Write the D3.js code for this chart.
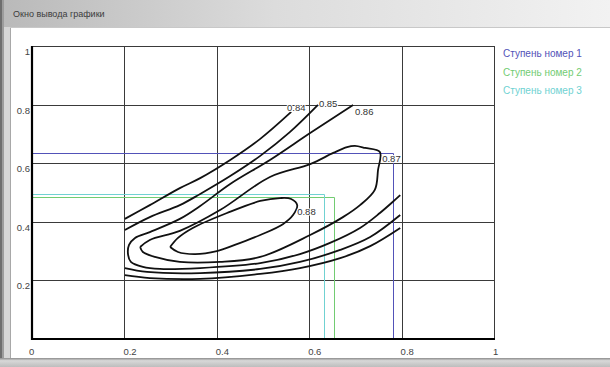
<!DOCTYPE html>
<html>
<head>
<meta charset="utf-8">
<script src="https://cdn.jsdelivr.net/npm/d3@7/dist/d3.min.js"></script>
<style>
  html, body { margin: 0; padding: 0; background: #ffffff; }
  svg { display: block; font-family: "Liberation Sans", Arial, sans-serif; }
</style>
</head>
<body>
<svg id="win" width="610" height="367"></svg>
<script>
// Axis ticks
const xTicks = [0, 0.2, 0.4, 0.6, 0.8, 1];
const yTicks = [0, 0.2, 0.4, 0.6, 0.8, 1];
const xTickLabels = ["0", "0.2", "0.4", "0.6", "0.8", "1"];
const yTickLabels = ["", "0.2", "0.4", "0.6", "0.8", "1"];

// Contour levels (x, y pairs)
const level084Upper = [[0.201,0.410],[0.255,0.457],[0.320,0.515],[0.364,0.549],[0.429,0.611],[0.494,0.683],[0.561,0.775]];
const level084Lower = [[0.201,0.218],[0.255,0.208],[0.364,0.205],[0.494,0.222],[0.580,0.242],[0.667,0.276],[0.732,0.317],[0.797,0.379]];
const level085Upper = [[0.201,0.372],[0.255,0.416],[0.320,0.457],[0.364,0.495],[0.429,0.556],[0.494,0.625],[0.558,0.706],[0.619,0.799]];
const level085Lower = [[0.201,0.242],[0.249,0.229],[0.364,0.225],[0.494,0.239],[0.580,0.263],[0.667,0.304],[0.732,0.348],[0.797,0.423]];
const level086 = [[0.695,0.799],[0.602,0.703],[0.515,0.611],[0.429,0.529],[0.364,0.454],[0.320,0.410],[0.255,0.365],[0.223,0.345],[0.210,0.321],[0.208,0.287],[0.214,0.263],[0.240,0.246],[0.277,0.239],[0.364,0.242],[0.494,0.259],[0.580,0.290],[0.645,0.328],[0.710,0.379],[0.753,0.430],[0.797,0.491]];
const level087 = [[0.234,0.314],[0.255,0.338],[0.320,0.369],[0.407,0.440],[0.515,0.553],[0.602,0.597],[0.652,0.635],[0.682,0.655],[0.699,0.659],[0.721,0.652],[0.753,0.638],[0.749,0.577],[0.742,0.509],[0.710,0.457],[0.673,0.416],[0.602,0.355],[0.494,0.280],[0.407,0.263],[0.320,0.263],[0.266,0.280],[0.240,0.297],[0.234,0.314]];
const level088 = [[0.299,0.314],[0.316,0.345],[0.348,0.379],[0.422,0.430],[0.494,0.471],[0.537,0.481],[0.561,0.478],[0.574,0.457],[0.565,0.423],[0.543,0.392],[0.494,0.355],[0.439,0.321],[0.400,0.300],[0.353,0.290],[0.316,0.297],[0.299,0.314]];

const contourPaths = [level084Upper, level084Lower, level085Upper, level085Lower, level086, level087, level088];
const contourLabels = ["0.84", "0.85", "0.86", "0.87", "0.88"];
const contourLabelAt = [[0.552,0.778],[0.621,0.792],[0.699,0.765],[0.758,0.604],[0.574,0.423]];

// Stage boundaries: [x limit, y limit]
const stageNames = ["Ступень номер 1", "Ступень номер 2", "Ступень номер 3"];
const stageX = [0.781, 0.654, 0.632];
const stageY = [0.636, 0.485, 0.495];
const stageColors = ["#5252b8", "#72cc72", "#70d2d2"];

const svg = d3.select("#win");
const W = 610, H = 367;

// ---- window chrome ----
const defs = svg.append("defs");
const tg = defs.append("linearGradient").attr("id", "title").attr("x1", 0).attr("x2", 1).attr("y1", 0).attr("y2", 0);
tg.append("stop").attr("offset", "0%").attr("stop-color", "#b9b9b9");
tg.append("stop").attr("offset", "45%").attr("stop-color", "#dcdcdc");
tg.append("stop").attr("offset", "100%").attr("stop-color", "#f2f2f2");
const bg = defs.append("linearGradient").attr("id", "bottom").attr("x1", 0).attr("x2", 0).attr("y1", 0).attr("y2", 1);
bg.append("stop").attr("offset", "0%").attr("stop-color", "#8c8c8c");
bg.append("stop").attr("offset", "30%").attr("stop-color", "#d8d8d8");
bg.append("stop").attr("offset", "100%").attr("stop-color", "#bdbdbd");

svg.append("rect").attr("width", W).attr("height", H).attr("fill", "#d6d6d6");
svg.append("rect").attr("x", 0).attr("y", 0).attr("width", W).attr("height", 27).attr("fill", "url(#title)");
svg.append("rect").attr("x", 0).attr("y", 0).attr("width", 2).attr("height", H).attr("fill", "#6e6e6e");
svg.append("rect").attr("x", 2).attr("y", 0).attr("width", 2).attr("height", H).attr("fill", "#9c9c9c");
svg.append("text").attr("x", 13).attr("y", 17).attr("font-size", 9).attr("fill", "#3c3c3c").text("Окно вывода графики");
svg.append("rect").attr("x", 10).attr("y", 27).attr("width", W - 10).attr("height", 331).attr("fill", "#ffffff");
svg.append("line").attr("x1", 10.5).attr("x2", 10.5).attr("y1", 27).attr("y2", 358).attr("stroke", "#a8a8a8");
svg.append("line").attr("x1", 10).attr("x2", W).attr("y1", 27.5).attr("y2", 27.5).attr("stroke", "#c8c8c8");
svg.append("rect").attr("x", 0).attr("y", 358).attr("width", W).attr("height", 9).attr("fill", "url(#bottom)");

// ---- plot ----
const x = d3.scaleLinear().domain([0, 1]).range([32, 494]);
const y = d3.scaleLinear().domain([0, 1]).range([339, 46]);
const plot = svg.append("g");

// grid
plot.append("g").selectAll("line").data(xTicks.slice(1)).join("line")
  .attr("x1", d => Math.round(x(d)) + 0.5).attr("x2", d => Math.round(x(d)) + 0.5)
  .attr("y1", y(1)).attr("y2", y(0)).attr("stroke", "#3a3a3a").attr("stroke-width", 1);
plot.append("g").selectAll("line").data(yTicks.slice(1)).join("line")
  .attr("y1", d => Math.round(y(d)) + 0.5).attr("y2", d => Math.round(y(d)) + 0.5)
  .attr("x1", x(0)).attr("x2", x(1)).attr("stroke", "#3a3a3a").attr("stroke-width", 1);

// stage boundary lines
stageNames.forEach((name, i) => {
  const path = d3.path();
  path.moveTo(x(0), Math.round(y(stageY[i])) + 0.5);
  path.lineTo(Math.round(x(stageX[i])) + 0.5, Math.round(y(stageY[i])) + 0.5);
  path.lineTo(Math.round(x(stageX[i])) + 0.5, y(0));
  plot.append("path").attr("d", path.toString()).attr("fill", "none")
    .attr("stroke", stageColors[i]).attr("stroke-width", 1);
});

// contours
const line = d3.line().x(d => x(d[0])).y(d => y(d[1])).curve(d3.curveCatmullRom.alpha(0.5));
plot.append("g").selectAll("path").data(contourPaths).join("path")
  .attr("d", line).attr("fill", "none").attr("stroke", "#111111").attr("stroke-width", 1.8)
  .attr("stroke-linejoin", "round");

plot.append("g").selectAll("text").data(contourLabels).join("text")
  .attr("x", (d, i) => x(contourLabelAt[i][0])).attr("y", (d, i) => y(contourLabelAt[i][1]))
  .attr("font-size", 9.5).attr("fill", "#333")
  .attr("stroke", "#fff").attr("stroke-width", 2).attr("paint-order", "stroke")
  .text(d => d);

// axes
plot.append("line").attr("x1", x(0)).attr("x2", x(0)).attr("y1", y(1)).attr("y2", y(0) + 1)
  .attr("stroke", "#000").attr("stroke-width", 2.2);
plot.append("line").attr("x1", x(0) - 1).attr("x2", x(1) + 1).attr("y1", y(0)).attr("y2", y(0))
  .attr("stroke", "#000").attr("stroke-width", 2.2);

// tick labels
plot.append("g").selectAll("text").data(xTicks).join("text")
  .attr("x", (d, i) => x(d) - (i === 0 ? 3 : 1)).attr("y", 355)
  .attr("font-size", 9.5).attr("fill", "#444").text((d, i) => xTickLabels[i]);
plot.append("g").selectAll("text").data(yTicks).join("text")
  .attr("x", 30).attr("y", d => y(d) + 9).attr("text-anchor", "end")
  .attr("font-size", 9.5).attr("fill", "#444").text((d, i) => yTickLabels[i]);

// legend
svg.append("g").selectAll("text").data(stageNames).join("text")
  .attr("x", 503).attr("y", (d, i) => 57 + i * 18.7)
  .attr("font-size", 10)
  .attr("fill", (d, i) => stageColors[i]).text(d => d);
</script>
</body>
</html>
